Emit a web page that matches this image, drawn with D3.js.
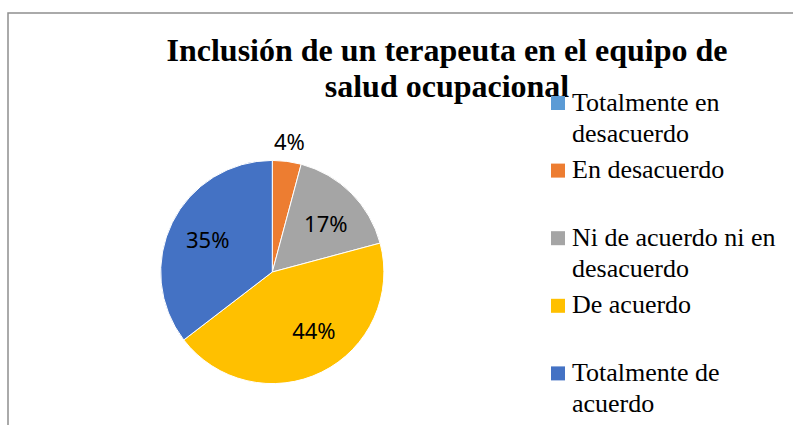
<!DOCTYPE html>
<html>
<head>
<meta charset="utf-8">
<script src="https://cdn.jsdelivr.net/npm/d3@7"></script>
<style>
  html, body { margin: 0; padding: 0; background: #fff; }
  svg { display: block; }
  .serif { font-family: "Liberation Serif", "Times New Roman", Times, "DejaVu Serif", serif; }
  .sans { font-family: "Noto Sans", "Open Sans", sans-serif; }
</style>
</head>
<body>
<div id="chart"></div>
<script>
// Datos del gráfico
const categories = [
  "Totalmente en desacuerdo",
  "En desacuerdo",
  "Ni de acuerdo ni en desacuerdo",
  "De acuerdo",
  "Totalmente de acuerdo"
];
// líneas de la leyenda (tal como se parten en la imagen)
const legendLines = [
  ["Totalmente en", "desacuerdo"],
  ["En desacuerdo"],
  ["Ni de acuerdo ni en", "desacuerdo"],
  ["De acuerdo"],
  ["Totalmente de", "acuerdo"]
];
const counts = [0, 2, 8, 21, 17];
const colors = ["#5b9bd5", "#ed7d31", "#a5a5a5", "#ffc000", "#4472c4"];
const titleLines = ["Inclusión de un terapeuta en el equipo de", "salud ocupacional"];

const W = 793, H = 425;
const cx = 272.3, cy = 272, R = 111.6;

const svg = d3.select("#chart").append("svg")
  .attr("width", W).attr("height", H);

// marco del área del gráfico
svg.append("path")
  .attr("d", `M8,${H} L8,13 L${W},13`)
  .attr("fill", "none")
  .attr("stroke", "#8f8f8f")
  .attr("stroke-width", 1.5);

// Título
svg.append("g").selectAll("text")
  .data(titleLines)
  .join("text")
  .attr("class", "serif")
  .attr("x", 447)
  .attr("y", (d, i) => 61 + i * 36)
  .attr("text-anchor", "middle")
  .attr("font-weight", "bold")
  .attr("font-size", 32)
  .text(d => d);

// Pastel
const total = d3.sum(counts);
const data = categories.map((c, i) => ({ cat: c, value: counts[i], color: colors[i] }));
const pie = d3.pie().value(d => d.value).sort(null);
const arcs = pie(data);
const arc = d3.arc().innerRadius(0).outerRadius(R);

const g = svg.append("g").attr("transform", `translate(${cx},${cy})`);
g.selectAll("path")
  .data(arcs.filter(a => a.data.value > 0))
  .join("path")
  .attr("d", arc)
  .attr("fill", d => d.data.color)
  .attr("stroke", "#fff")
  .attr("stroke-width", 1);

// Etiquetas de porcentaje ("mejor ajuste": las pequeñas fuera)
const inArc = d3.arc().innerRadius(72).outerRadius(72);
const outArc = d3.arc().innerRadius(131).outerRadius(131);
const nudge = [0, 0, 3, -9, 0]; // grados, ajuste fino del "best fit"
const fmt = d => Math.round(d / total * 100) + "%";

g.selectAll("text.lbl")
  .data(arcs.filter(a => a.data.value > 0))
  .join("text")
  .attr("class", "lbl sans")
  .attr("transform", d => {
    const small = d.data.value / total < 0.08;
    const k = (nudge[d.index] || 0) * Math.PI / 180;
    const a = { startAngle: d.startAngle + k, endAngle: d.endAngle + k };
    const [x, y] = (small ? outArc : inArc).centroid(a);
    return `translate(${x},${y})`;
  })
  .attr("text-anchor", "middle")
  .attr("dy", "0.35em")
  .attr("font-size", 22)
  .attr("fill", "#000")
  .text(d => fmt(d.data.value));

// Leyenda
const legend = svg.append("g").attr("transform", "translate(551, 96)");
const item = legend.selectAll("g.item")
  .data(categories)
  .join("g")
  .attr("class", "item")
  .attr("transform", (_, i) => `translate(0, ${i * 67.6})`);
item.append("rect")
  .attr("width", 14).attr("height", 14)
  .attr("fill", (_, i) => colors[i]);
item.append("text")
  .attr("class", "serif")
  .attr("x", 21)
  .attr("y", 14.5)
  .attr("font-size", 26)
  .attr("fill", "#000")
  .selectAll("tspan")
  .data((_, i) => legendLines[i])
  .join("tspan")
  .attr("x", 21)
  .attr("dy", (d, j) => j === 0 ? 0 : 31)
  .text(d => d);
</script>
</body>
</html>
